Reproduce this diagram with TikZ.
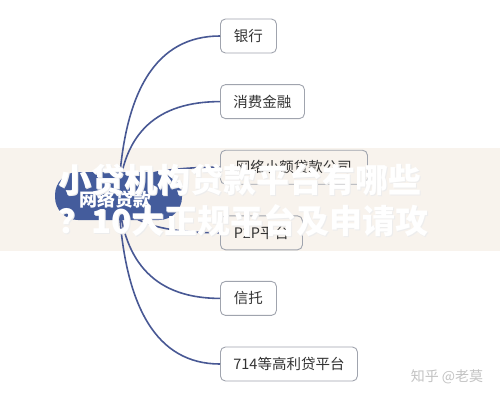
\documentclass[tikz,border=0pt]{standalone}
\usepackage{fontspec}
\setmainfont{Noto Sans CJK SC}
\usetikzlibrary{calc}
\definecolor{rootblue}{RGB}{68,92,156}
\definecolor{connblue}{RGB}{72,88,148}
\definecolor{boxgray}{RGB}{160,164,174}
\definecolor{txtgray}{RGB}{51,51,51}
\definecolor{bandbeige}{RGB}{248,243,237}
\definecolor{wmgray}{RGB}{195,195,195}
\tikzset{
  rootnode/.style={fill=rootblue, rounded corners=23pt, minimum width=127pt, minimum height=48pt,
    text=white, inner sep=0pt, font=\fontsize{18}{20}\selectfont\bfseries},
  leafbox/.style={draw=boxgray, line width=0.9pt, rounded corners=5pt, anchor=west,
    minimum height=34pt, inner sep=0pt, text=txtgray, font=\fontsize{14.5}{17}\selectfont},
  conn/.style={draw=connblue, line width=1.6pt},
  bigtxt/.style={anchor=west, inner sep=0pt, text=white, font=\fontsize{33}{36}\selectfont\bfseries},
  bigshadow/.style={anchor=west, inner sep=0pt, text=black!7, font=\fontsize{33}{36}\selectfont\bfseries},
}
\begin{document}
\begin{tikzpicture}[x=1pt,y=-1pt]
\useasboundingbox (0,0) rectangle (500,400);
\fill[white] (0,0) rectangle (500,400);
% band
\fill[bandbeige] (0,148) rectangle (500,251);
% leaves
\node[leafbox, minimum width=56pt]  (b1) at (220,36)    {银行};
\node[leafbox, minimum width=84pt]  (b2) at (220,101.6) {消费金融};
\node[leafbox, minimum width=147pt] (b3) at (220,167.2) {网络小额贷款公司};
\node[leafbox, minimum width=82pt]  (b4) at (220,232.8) {P2P平台};
\node[leafbox, minimum width=56pt]  (b5) at (220,298.4) {信托};
\node[leafbox, minimum width=137pt] (b6) at (220,364)   {714等高利贷平台};
% connectors
\coordinate (rc) at (118.5,196);
\draw[conn] (rc) .. controls +(4.7,-106.7) and +(-63,0) .. (b1.west);
\draw[conn] (rc) .. controls +(4.7,-63) and +(-63,0) .. (b2.west);
\draw[conn] (rc) .. controls +(4.7,-19.2) and +(-63,0) .. (b3.west);
\draw[conn] (rc) .. controls +(4.7,24.5) and +(-63,0) .. (b4.west);
\draw[conn] (rc) .. controls +(4.7,68.3) and +(-63,0) .. (b5.west);
\draw[conn] (rc) .. controls +(4.7,112) and +(-63,0) .. (b6.west);
% root
\node[rootnode] (root) at (rc) {};
\node[text=white, inner sep=0pt, font=\fontsize{18}{20}\selectfont\bfseries] (rootlbl) at (115,200) {网络贷款};
% overlay title
\node[bigshadow] (t1s) at (58.8,180.8) {小贷机构贷款平台有哪些};
\node[bigshadow] (t2s) at (58.8,221.8) {？10大正规平台及申请攻};
\node[bigtxt] (t1) at (58,180) {小贷机构贷款平台有哪些};
\node[bigtxt] (t2) at (58,221) {？10大正规平台及申请攻};
% watermark
\node[text=wmgray, inner sep=0pt, font=\fontsize{14}{16}\selectfont] (wm) at (447,377) {知乎 @老莫};
\end{tikzpicture}
\end{document}
